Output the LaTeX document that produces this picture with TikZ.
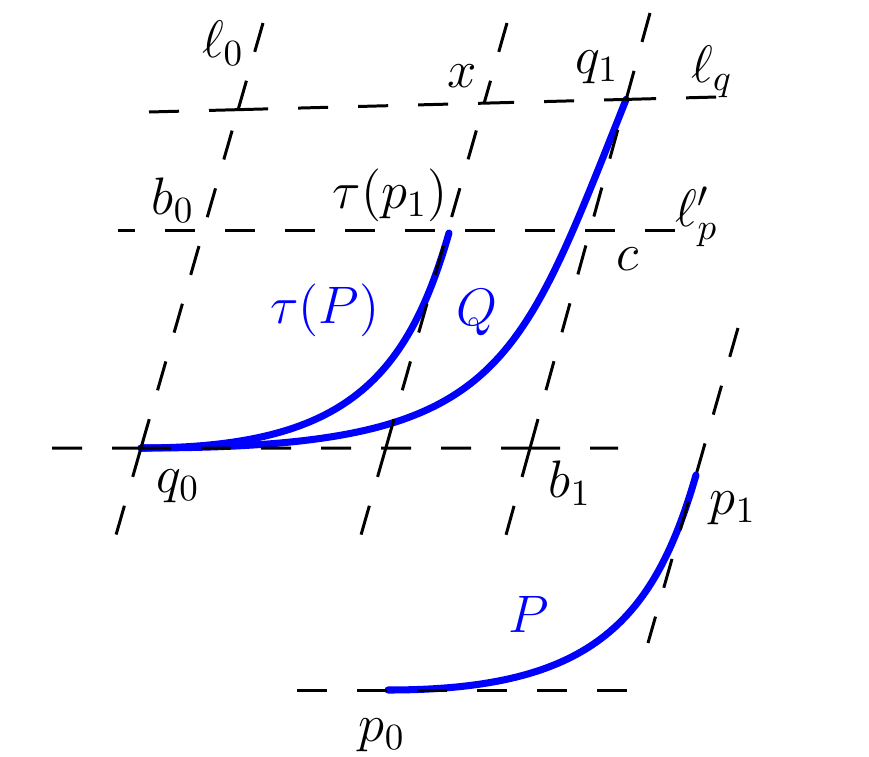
\RequirePackage{fix-cm}
\documentclass[tikz,border=0pt]{standalone}
\usepackage{tikz}
\usetikzlibrary{calc}

\tikzset{
    guide/.style={line width=0.85pt, dash pattern=on 0.3cm off 0.3cm},
    curve/.style={blue, line width=2pt, line cap=round},
    lbl/.style={font=\fontsize{15}{18}\selectfont, inner sep=0pt}
}

\begin{document}
\begin{tikzpicture}[x=0.01cm, y=-0.01cm]
\useasboundingbox (0,0) rectangle (869,757);

% Ends of the slanted lines
\coordinate (l0top) at (263,23);
\coordinate (l0bot) at (116,535);
\coordinate (xtop) at (507,23);
\coordinate (xbot) at (361,535);
\coordinate (q1top) at (650,13);
\coordinate (q1bot) at (506,535);
\coordinate (p1top) at (738,328);
\coordinate (p1bot) at (648,643);

% Ends of the horizontal lines
\coordinate (lqL) at (149,112);
\coordinate (lqR) at (717,97);
\coordinate (lpL) at (118,230);
\coordinate (lpR) at (675,230);
\coordinate (q0L) at (52,448);
\coordinate (q0R) at (618,448);
\coordinate (p0L) at (297,690);
\coordinate (p0R) at (627,690);

% Crossings
\coordinate (q0) at (intersection of l0top--l0bot and q0L--q0R);
\coordinate (xq) at (intersection of xtop--xbot and q0L--q0R);
\coordinate (b1) at (intersection of q1top--q1bot and q0L--q0R);
\coordinate (l0q) at (intersection of l0top--l0bot and lqL--lqR);
\coordinate (xpt) at (intersection of xtop--xbot and lqL--lqR);
\coordinate (q1) at (intersection of q1top--q1bot and lqL--lqR);
\coordinate (p0) at (388,690);
\coordinate (p1) at ($(p1top)!0.4667!(p1bot)$);
\coordinate (tp1) at ($(q0)+(p1)-(p0)$);

% Curves
\draw[curve] (p0) .. controls +(200,0) and +(-43,150) .. (p1);
\draw[curve] (q0) .. controls +(200,0) and +(-43,150) .. (tp1);
\draw[curve] (q0) .. controls +(360,0) and +(-112,280) .. (q1);

% Dashed lines
\draw[guide] (l0top) -- (l0q) (q0) -- (l0q) (q0) -- (l0bot);
\draw[guide] (xtop) -- (xpt) (xq) -- (xpt) (xq) -- (xbot);
\draw[guide] (q1top) -- (q1) (b1) -- (q1) (b1) -- (q1bot);
\draw[guide] (p1top) -- (p1bot);
\draw[guide] (lqL) -- (l0q) (l0q) -- (xpt) (xpt) -- (q1) (q1) -- (lqR);
\draw[guide] (lpR) -- (lpL);
\draw[guide] (q0L) -- (q0) (q0) -- (b1) (b1) -- (q0R);
\draw[guide] (p0L) -- (p0R);

% Labels
\node[lbl] (ll0) at (223,43) {$\ell_0$};
\node[lbl] (lx) at (462,76) {$x$};
\node[lbl] (lq1) at (597,67) {$q_1$};
\node[lbl] (llq) at (712,72) {$\ell_q$};
\node[lbl] (lb0) at (173,200) {$b_0$};
\node[lbl] (ltp1) at (390,195) {$\tau(p_1)$};
\node[lbl] (llp) at (697,217) {$\ell'_p$};
\node[lbl] (lc) at (628,259) {$c$};
\node[lbl, blue] (ltP) at (325,310) {$\tau(P)$};
\node[lbl, blue] (lQ) at (477,313) {$Q$};
\node[lbl] (lq0) at (178,486) {$q_0$};
\node[lbl] (lb1) at (570,483) {$b_1$};
\node[lbl] (lp1) at (733,508) {$p_1$};
\node[lbl, blue] (lP) at (529,614) {$P$};
\node[lbl] (lp0) at (382,735) {$p_0$};

\end{tikzpicture}
\end{document}
